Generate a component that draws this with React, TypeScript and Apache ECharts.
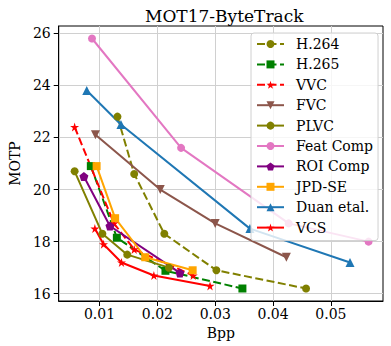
import React, { useEffect, useRef } from "react";
import * as echarts from "echarts";

const TITLE = "MOT17-ByteTrack";
const X_TICKS = [0.01, 0.02, 0.03, 0.04, 0.05];
const Y_TICKS = [16, 18, 20, 22, 24, 26];

const h264Bpp = [0.0131, 0.016, 0.0212, 0.0302, 0.0457];
const h264Motp = [22.8, 20.6, 18.3, 16.9, 16.2];

const h265Bpp = [0.0085, 0.013, 0.0214, 0.0347];
const h265Motp = [20.9, 18.15, 16.88, 16.2];

const vvcBpp = [0.0057, 0.0125, 0.016, 0.0262];
const vvcMotp = [22.4, 18.7, 17.7, 16.7];

const fvcBpp = [0.0093, 0.0205, 0.030, 0.0423];
const fvcMotp = [22.1, 20.0, 18.7, 17.4];

const plvcBpp = [0.0057, 0.0105, 0.0148, 0.022];
const plvcMotp = [20.7, 18.3, 17.5, 17.0];

const featBpp = [0.0087, 0.0241, 0.0427, 0.0565];
const featMotp = [25.8, 21.6, 18.7, 18.0];

const roiBpp = [0.0073, 0.0118, 0.0239];
const roiMotp = [20.5, 18.6, 16.8];

const jpdBpp = [0.0095, 0.0127, 0.0179, 0.0261];
const jpdMotp = [20.9, 18.9, 17.4, 16.9];

const duanBpp = [0.0078, 0.0137, 0.036, 0.0533];
const duanMotp = [23.8, 22.5, 18.5, 17.2];

const vcsBpp = [0.0092, 0.0107, 0.0138, 0.0194, 0.0291];
const vcsMotp = [18.5, 17.9, 17.2, 16.7, 16.3];

const STAR =
  "path://M50,0 L61.2,34.5 L97.6,34.5 L68.2,55.9 L79.4,90.5 L50,69.1 L20.6,90.5 L31.8,55.9 L2.4,34.5 L38.8,34.5 Z";
const PENTAGON = "path://M50,0 L97.6,34.5 L79.4,90.5 L20.6,90.5 L2.4,34.5 Z";

const FONT = "DejaVu Serif";

function zip(xs: number[], ys: number[]) {
  return xs.map((x, i) => [x, ys[i]]);
}

function mk(
  name: string,
  xs: number[],
  ys: number[],
  color: string,
  dashed: boolean,
  symbol: string,
  symbolSize: number,
  symbolRotate = 0
) {
  return {
    name,
    type: "line",
    data: zip(xs, ys),
    symbol,
    symbolSize,
    symbolRotate,
    showAllSymbol: true,
    color,
    lineStyle: { color, width: 2, type: dashed ? [8, 3.5] : "solid" },
    itemStyle: { color, borderWidth: 0 },
    emphasis: { disabled: true },
  };
}

export default function App() {
  const ref = useRef<HTMLDivElement>(null);
  useEffect(() => {
    if (!ref.current) return;
    const chart = echarts.init(ref.current, undefined, { renderer: "svg" });
    const series = [
      mk("H.264", h264Bpp, h264Motp, "#808000", true, "circle", 8),
      mk("H.265", h265Bpp, h265Motp, "#008000", true, "rect", 8),
      mk("VVC", vvcBpp, vvcMotp, "#ff0000", true, STAR, 9),
      mk("FVC", fvcBpp, fvcMotp, "#8c564b", false, "triangle", 9, 180),
      mk("PLVC", plvcBpp, plvcMotp, "#808000", false, "circle", 8),
      mk("Feat Comp", featBpp, featMotp, "#e377c2", false, "circle", 8),
      mk("ROI Comp", roiBpp, roiMotp, "#800080", false, PENTAGON, 9),
      mk("JPD-SE", jpdBpp, jpdMotp, "#ffa500", false, "rect", 8),
      mk("Duan etal.", duanBpp, duanMotp, "#1f77b4", false, "triangle", 9),
      mk("VCS", vcsBpp, vcsMotp, "#ff0000", false, STAR, 9),
    ];
    chart.setOption({
      animation: false,
      title: {
        text: TITLE,
        left: 140,
        top: 2,
        textStyle: { fontFamily: FONT, fontSize: 17, fontWeight: "normal", color: "#000" },
      },
      grid: {
        left: 52,
        top: 26,
        width: 331,
        height: 275,
        show: true,
        borderColor: "#000",
        borderWidth: 1,
        backgroundColor: "transparent",
        containLabel: false,
      },
      legend: {
        orient: "vertical",
        left: 251,
        top: 33,
        padding: [4, 5, 6, 5],
        itemWidth: 27,
        itemHeight: 10,
        itemGap: 6.4,
        backgroundColor: "rgba(255,255,255,0.8)",
        borderColor: "#d0d0d0",
        borderWidth: 1,
        borderRadius: 3,
        textStyle: { fontFamily: FONT, fontSize: 14, color: "#000", padding: [0, 0, 0, 7] },
        data: series.map((s) => s.name),
      },
      xAxis: {
        type: "value",
        min: 0.00295,
        max: 0.059,
        splitNumber: 5,
        name: "Bpp",
        nameLocation: "middle",
        nameGap: 23,
        nameTextStyle: { fontFamily: FONT, fontSize: 14, color: "#000" },
        axisLine: { onZero: false, lineStyle: { color: "#000", width: 1 } },
        axisTick: { show: true, length: 5, inside: false, customValues: X_TICKS, lineStyle: { color: "#000" } },
        axisLabel: {
          customValues: X_TICKS,
          margin: 6,
          fontFamily: FONT,
          fontSize: 14,
          color: "#000",
          formatter: (v: number) => v.toFixed(2),
        },
        splitLine: { show: true, lineStyle: { color: "#d0d0d0", width: 1 } },
      },
      yAxis: {
        type: "value",
        min: 15.72,
        max: 26.28,
        splitNumber: 5,
        name: "MOTP",
        nameLocation: "middle",
        nameRotate: 90,
        nameGap: 36,
        nameTextStyle: { fontFamily: FONT, fontSize: 14, color: "#000" },
        axisLine: { onZero: false, lineStyle: { color: "#000", width: 1 } },
        axisTick: { show: true, length: 5, inside: false, customValues: Y_TICKS, lineStyle: { color: "#000" } },
        axisLabel: {
          customValues: Y_TICKS,
          margin: 8,
          fontFamily: FONT,
          fontSize: 14,
          color: "#000",
          formatter: (v: number) => String(Math.round(v)),
        },
        splitLine: { show: true, lineStyle: { color: "#d0d0d0", width: 1 } },
      },
      series,
    });
    return () => chart.dispose();
  }, []);
  return (
    <div
      ref={ref}
      style={{ position: "fixed", left: 0, top: 0, width: 391, height: 346, background: "#fff" }}
    />
  );
}
